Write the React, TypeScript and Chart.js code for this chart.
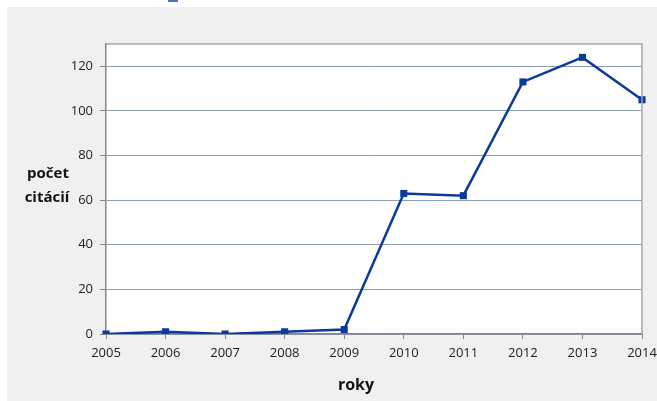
import React, { useEffect, useRef } from "react";
import { Chart, registerables } from "chart.js";

Chart.register(...registerables);

const years = ["2005", "2006", "2007", "2008", "2009", "2010", "2011", "2012", "2013", "2014"];
const citations = [0, 1, 0, 1, 2, 63, 62, 113, 124, 105];
const yTitleLines = ["počet", "citácií"];
const xTitle = "roky";

const LINE = "#0b3a9c";
const FONT = "'Open Sans', 'DejaVu Sans', sans-serif";

export default function App() {
  const ref = useRef<HTMLCanvasElement | null>(null);

  useEffect(() => {
    if (!ref.current) return;
    const bgPlugin = {
      id: "bg",
      beforeDraw(chart: any) {
        const { ctx, chartArea: a } = chart;
        ctx.save();
        ctx.fillStyle = "#f0f0f0";
        ctx.fillRect(0, 0, chart.width, chart.height);
        ctx.fillStyle = "#ffffff";
        ctx.fillRect(a.left, a.top, a.right - a.left, a.bottom - a.top);
        ctx.restore();
      },
      afterDraw(chart: any) {
        const { ctx, chartArea: a } = chart;
        ctx.save();
        ctx.strokeStyle = "#a6a6a6";
        ctx.lineWidth = 1.5;
        ctx.beginPath();
        ctx.moveTo(a.left, a.top);
        ctx.lineTo(a.right, a.top);
        ctx.lineTo(a.right, a.bottom);
        ctx.stroke();
        ctx.fillStyle = "#111";
        ctx.font = "bold 15px " + FONT;
        ctx.textAlign = "center";
        ctx.textBaseline = "alphabetic";
        ctx.fillText(yTitleLines[0], 41, 171);
        ctx.fillText(yTitleLines[1], 40, 195);
        ctx.font = "bold 16px " + FONT;
        ctx.fillText(xTitle, 349, 383);
        ctx.restore();
      },
    };

    const chart = new Chart(ref.current, {
      type: "line",
      data: {
        labels: years,
        datasets: [
          {
            data: citations,
            borderColor: LINE,
            backgroundColor: LINE,
            borderWidth: 2.5,
            pointStyle: "rect",
            pointRadius: 5,
            pointBorderWidth: 0,
            tension: 0,
          },
        ],
      },
      options: {
        animation: false,
        responsive: false,
        devicePixelRatio: 1,
        layout: { padding: { top: 37, right: 15, left: 0, bottom: 0 } },
        plugins: { legend: { display: false }, tooltip: { enabled: false } },
        scales: {
          x: {
            type: "category",
            offset: false,
            afterFit(scale: any) {
              scale.height = 67;
              scale.paddingLeft = 0;
              scale.paddingRight = 0;
            },
            grid: {
              offset: false,
              drawOnChartArea: false,
              drawTicks: true,
              tickLength: 5,
              tickColor: "#868686",
            },
            border: { color: "#868686", width: 1.5 },
            ticks: {
              color: "#222",
              font: { family: FONT, size: 13 },
              padding: 6,
              maxRotation: 0,
              autoSkip: false,
            },
          },
          y: {
            min: 0,
            max: 130,
            afterFit(scale: any) {
              scale.width = 99;
              scale.paddingTop = 0;
              scale.paddingBottom = 0;
            },
            afterBuildTicks(scale: any) {
              scale.ticks = scale.ticks.filter((t: any) => t.value % 20 === 0);
            },
            grid: {
              color: "#8c9db6",
              lineWidth: 1,
              drawTicks: true,
              tickLength: 6,
              tickColor: "#868686",
            },
            border: { color: "#868686", width: 1.5 },
            ticks: {
              stepSize: 20,
              color: "#222",
              font: { family: FONT, size: 13 },
              padding: 7,
            },
          },
        },
      },
      plugins: [bgPlugin],
    });
    return () => chart.destroy();
  }, []);

  return (
    <div>
      <div style={{ position: "absolute", left: 168, top: 0, width: 10, height: 2, background: "#4a72c8" }} />
      <div style={{ position: "absolute", left: 7, top: 7, width: 650, height: 394 }}>
        <canvas ref={ref} width={650} height={394} style={{ display: "block", width: 650, height: 394 }} />
      </div>
    </div>
  );
}
